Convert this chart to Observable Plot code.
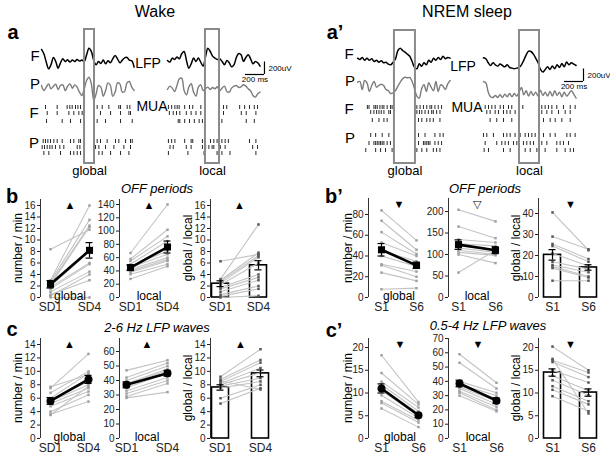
<!DOCTYPE html>
<html><head><meta charset="utf-8">
<script src="https://cdn.jsdelivr.net/npm/d3@7"></script>
<script src="https://cdn.jsdelivr.net/npm/@observablehq/plot@0.6"></script>
<style>
body{margin:0;background:#fff;}
#fig{position:relative;width:615px;height:460px;overflow:hidden;font-family:"Liberation Sans",Arial,sans-serif;color:#000;}
.abs{position:absolute;white-space:nowrap;line-height:1;}
</style></head><body><div id="fig"></div>
<script>
// ---------------- DATA ----------------
// LFP traces (µV), sampled every 25 ms, 1 s windows
const wakeGlobalF = [150,80,-53,-160,-96,21,-43,-150,-64,0,-43,-16,-53,-21,-43,-11,-37,-21,-43,64,170,117,-27,-96,-43,-75,-21,-80,-32,-64,0,53,0,-64,-21,16,21,-21,-32,-133];
const wakeGlobalP = [27,-53,0,53,-27,16,48,-37,27,37,-53,16,53,-16,37,0,-80,-133,-27,107,160,53,-213,-107,27,0,-144,-53,69,27,-144,-80,69,53,-80,-69,69,91,0,-53];
const wakeLocalF = [-27,-53,11,-11,27,0,80,117,-27,-150,-80,11,-43,11,-53,-117,27,170,117,43,11,-11,0,-43,-96,-27,-64,-128,-96,21,85,64,-43,21,64,0,-80,-43,-64,-117];
const wakeLocalP = [-11,43,11,-43,53,160,170,-27,-96,27,80,-53,-117,27,64,-27,0,27,-11,21,0,32,-32,11,43,-43,-53,11,43,53,21,32,64,43,0,-32,-107,-133,-80,-53];
const nremGlobalF = [37,16,48,5,37,5,27,-16,5,-27,-5,-37,-27,-59,-69,-27,27,160,197,160,133,101,69,-16,-107,-133,-53,-91,-37,-69,5,-27,37,5,48,16,69,27,48,37];
const nremGlobalP = [53,64,-64,80,43,-96,0,64,-27,0,21,0,-64,-85,-128,-117,-80,-11,53,107,133,123,128,64,-53,-171,-203,-53,11,-96,43,-27,-85,64,-96,11,-11,-64,27,80];
const nremLocalF = [80,64,0,-43,0,-32,-53,-21,-43,-64,-32,-75,-85,-96,-85,-75,-32,43,128,187,181,139,75,0,-107,-149,-107,-64,-107,-53,-96,-32,-75,-11,-64,11,-32,0,-21,-43];
const nremLocalP = [197,176,27,-48,-59,-27,-59,-16,-59,-5,-48,5,-48,5,-37,27,101,-16,48,-37,37,-27,27,-37,59,-27,27,-37,37,-37,48,-27,27,-48,27,-37,5,48,-5,-69];

// MUA spike times (ms) per raster row
const wakeGlobalMuaF = [[42,165,270,298,323,358,383,411,586,639,709,814,832,902,930],[60,165,288,340,393,428,621,727,832,920,937],[53,218,305,411,586,674,832,955]];
const wakeGlobalMuaP = [[18,42,67,95,130,165,218,305,340,393,411,586,621,691,779,814,885,937,955],[7,32,60,88,112,147,193,235,376,404,569,604,674,762,867,937],[25,77,200,305,340,376,411,604,639,727,832,920]];
const wakeLocalMuaF = [[10,44,78,102,123,181,232,266,351,590,624,760,812,863,914,948],[20,61,95,130,198,249,300,351,590,777,829,931],[113,130,181,232,283,334,368,573,829,914]];
const wakeLocalMuaP = [[10,44,78,181,249,266,368,453,488,522,573,607,641,863,931],[27,61,198,249,368,402,436,470,488,556,607,897,948],[10,215,385,522,573,658,931]];
const nremGlobalMuaF = [[104,121,173,191,208,236,260,278,312,347,364,625,659,694,729,763,781,815,850,885],[139,173,201,226,250,278,330,347,625,652,677,711,746,781,798,833,868],[156,226,278,312,642,677,729,763,798,868]];
const nremGlobalMuaP = [[139,191,260,330,642,711,815,868,902],[121,173,191,208,226,243,260,278,312,347,642,694,711,729,746,763,815,850,885],[87,191,243,295,364,625,677,729,798,833,868]];
const nremLocalMuaF = [[18,53,88,123,176,211,263,298,414,614,649,684,720,772,842,913,965],[35,70,123,158,211,246,281,333,614,667,720,790,860,913],[70,140,211,298,632,702,755,825,913]];
const nremLocalMuaP = [[0,35,105,211,246,281,333,386,439,474,509,544,632,702,755,878,913,965],[18,140,193,228,263,316,351,421,456,492,527,614,667,772,807,842,895],[7,53,211,281,439,492,562,649,772,860,913,948]];

// event windows (ms)
const wakeGlobalWin = [453, 558];
const wakeLocalWin = [400, 548];
const nremGlobalWin = [389, 610];
const nremLocalWin = [379, 590];

// Group data
const wakeCats = ["SD1", "SD4"];
const sleepCats = ["S1", "S6"];
const offGlobalSD1 = [8.4,3.0,2.8,2.5,2.2,2.0,1.8,1.5,1.0,0.5,0.3,0.0];
const offGlobalSD4 = [11.8,16.0,13.5,12.5,12.3,8.0,6.0,5.8,4.5,3.0,4.0,0.0];
const offGlobalMean = [2.3, 8.2], offGlobalSE = [0.65, 1.35];
const offLocalSD1 = [67,58,55,50,47,45,42,40,38,35,28];
const offLocalSD4 = [140,102,92,85,70,65,60,57,55,50,47];
const offLocalMean = [45, 76], offLocalSE = [4, 9];
const offRatioSD1 = [6.3,3.2,3.0,2.8,2.5,2.2,1.8,1.5,1.0,0.5,0.2,0.0];
const offRatioSD4 = [7.5,12.7,7.8,7.3,7.0,6.0,4.0,3.5,3.0,2.0,1.5,0.3];
const offRatioMean = [2.4, 5.6], offRatioSE = [0.5, 0.8];

const offGlobalS1 = [84,74,63,53,45,40,32,31,24,8];
const offGlobalS6 = [55,46,42,40,35,30,25,20,16,9];
const offGlobalSleepMean = [46, 31], offGlobalSleepSE = [6, 3];
const offLocalS1 = [204,165,135,125,120,115,110,105,100,58];
const offLocalS6 = [177,138,128,120,112,105,100,98,80,110];
const offLocalSleepMean = [123, 110], offLocalSleepSE = [11, 8];
const offRatioS1 = [40.5,29,25.5,24.5,21,17,15.5,14.8,14,8];
const offRatioS6 = [22.5,23,18.3,17,15,13.5,12,10,9.5,8];
const offRatioSleepMean = [20.3, 14.3], offRatioSleepSE = [2.5, 1.3];

const thetaGlobalSD1 = [7.7,7.5,6.8,6.0,5.7,5.5,5.2,4.8,4.0,3.6,3.5];
const thetaGlobalSD4 = [9.5,12.6,10.0,9.7,8.5,8.0,7.5,7.0,6.5,5.5,7.8];
const thetaGlobalMean = [5.6, 8.8], thetaGlobalSE = [0.5, 0.6];
const thetaLocalSD1 = [47,42,40,38,37,35,33,31,29,28];
const thetaLocalSD4 = [54,52,50,48,47,45,42,40,38,32];
const thetaLocalMean = [37, 45], thetaLocalSE = [2, 2];
const thetaRatioSD1 = [9.2,8.8,8.5,8.2,8.0,7.8,7.5,6.0,5.2,8.6];
const thetaRatioSD4 = [13.3,11.7,11.3,10.5,9.8,9.0,8.5,8.0,7.5,7.3];
const thetaRatioMean = [7.6, 9.7], thetaRatioSE = [0.4, 0.5];

const deltaGlobalS1 = [18.3,14.4,12.5,11.8,11,10.5,9.5,8.2,7.8,6.6];
const deltaGlobalS6 = [8,7.5,6.8,6,5.5,5,4.5,4,3.5,2.5];
const deltaGlobalMean = [11, 5.1], deltaGlobalSE = [1, 0.5];
const deltaLocalS1 = [59,53,40,38,37,36,35,33,32,30];
const deltaLocalS6 = [39,35,32,30,28,26,24,22,20,19];
const deltaLocalMean = [38.5, 26.5], deltaLocalSE = [2.3, 2];
const deltaRatioS1 = [20.2,17.2,16.8,15,13.8,12.8,11.5,10.7,9.3,17.5];
const deltaRatioS6 = [15,14.5,13.5,12.3,10.5,9.5,8.2,7.5,6.0,5.5];
const deltaRatioMean = [14.5, 10.1], deltaRatioSE = [0.8, 0.8];

// ---------------- RENDER ----------------
const FONT = '"Liberation Sans", Arial, sans-serif';
const fig = document.getElementById("fig");
function txt(s, x, y, style = {}) {
  const d = document.createElement("div");
  d.className = "abs";
  d.textContent = s;
  Object.assign(d.style, {left: x + "px", top: y + "px", transform: "translate(-50%,-50%)", fontSize: "12px"}, style);
  fig.appendChild(d);
  return d;
}
function place(node, left, top) {
  node.style.position = "absolute";
  node.style.left = left + "px";
  node.style.top = top + "px";
  fig.appendChild(node);
}

const SAMPLE_MS = 25, LOCAL_OFFSET_MS = 1326, PX_PER_MS = 0.095, UV_PER_PX = 16;

function tracePanel(cfg) {
  const W = 305, H = 182;
  const segs = [{off: 0, ...cfg.global}, {off: LOCAL_OFFSET_MS, ...cfg.local}];
  const lfpF = [], lfpP = [], spikes = [];
  segs.forEach((s, si) => {
    s.F.forEach((v, i) => lfpF.push({k: si, t: s.off + i * SAMPLE_MS, y: s.baseF * UV_PER_PX - v}));
    s.P.forEach((v, i) => lfpP.push({k: si, t: s.off + i * SAMPLE_MS, y: s.baseP * UV_PER_PX - v}));
    [[s.muaF, cfg.rowsF], [s.muaP, cfg.rowsP]].forEach(([rows, rowPx]) =>
      rows.forEach((row, r) => row.forEach(t =>
        spikes.push({t: s.off + t, y1: (rowPx[r] - 2) * UV_PER_PX, y2: (rowPx[r] + 2) * UV_PER_PX}))));
  });
  const boxes = segs.map(s => ({x1: s.off + s.win[0], x2: s.off + s.win[1], label: s.name}));
  const sbY = cfg.sbYpx * UV_PER_PX;
  return Plot.plot({
    width: W, height: H, margin: 0,
    style: {fontFamily: FONT, background: "transparent"},
    x: {domain: [-cfg.t0px / PX_PER_MS, (W - cfg.t0px) / PX_PER_MS], axis: null},
    y: {domain: [0, H * UV_PER_PX], reverse: true, axis: null},
    marks: [
      Plot.line(lfpP, {x: "t", y: "y", z: "k", stroke: "#7c7c7c", strokeWidth: 1.4, curve: "catmull-rom"}),
      Plot.line(lfpF, {x: "t", y: "y", z: "k", stroke: "#000", strokeWidth: 1.5, curve: "catmull-rom"}),
      Plot.ruleX(spikes, {x: "t", y1: "y1", y2: "y2", stroke: "#111", strokeWidth: 0.9}),
      Plot.rect(boxes, {x1: "x1", x2: "x2", y1: cfg.boxTop * UV_PER_PX, y2: cfg.boxBottom * UV_PER_PX, stroke: "#8a8a8a", strokeWidth: 2, fill: "none"}),
      Plot.text(boxes, {x: d => (d.x1 + d.x2) / 2, y: cfg.labelYpx * UV_PER_PX, text: "label", fontSize: 13, fill: "#000"}),
      Plot.ruleX([cfg.sbT], {y1: sbY - 200, y2: sbY, stroke: "#000", strokeWidth: 1.2}),
      Plot.ruleY([sbY], {x1: cfg.sbT - 200, x2: cfg.sbT, stroke: "#000", strokeWidth: 1.2}),
      Plot.text(["200uV"], {x: cfg.sbT + 4 / PX_PER_MS, y: sbY - 90, textAnchor: "start", fontSize: 8}),
      Plot.text(["200 ms"], {x: cfg.sbT - 100, y: sbY + 5 * UV_PER_PX, fontSize: 8})
    ]
  });
}

place(tracePanel({
  t0px: 41, rowsF: [107, 113, 121], rowsP: [141, 147, 153], boxTop: 29, boxBottom: 163, labelYpx: 170,
  sbT: 2347, sbYpx: 74,
  global: {name: "global", F: wakeGlobalF, P: wakeGlobalP, baseF: 58.3, baseP: 86.7, muaF: wakeGlobalMuaF, muaP: wakeGlobalMuaP, win: wakeGlobalWin},
  local: {name: "local", F: wakeLocalF, P: wakeLocalP, baseF: 58.3, baseP: 88.3, muaF: wakeLocalMuaF, muaP: wakeLocalMuaP, win: wakeLocalWin}
}), 0, 0);
place(tracePanel({
  t0px: 52, rowsF: [107, 112, 120], rowsP: [135, 143, 150], boxTop: 30, boxBottom: 163, labelYpx: 170,
  sbT: 2379, sbYpx: 81,
  global: {name: "global", F: nremGlobalF, P: nremGlobalP, baseF: 60, baseP: 85, muaF: nremGlobalMuaF, muaP: nremGlobalMuaP, win: nremGlobalWin},
  local: {name: "local", F: nremLocalF, P: nremLocalP, baseF: 62.3, baseP: 93.3, muaF: nremLocalMuaF, muaP: nremLocalMuaP, win: nremLocalWin}
}), 305, 0);

// top labels
txt("Wake", 155, 12, {fontSize: "16px"});
txt("NREM sleep", 467, 12, {fontSize: "16px"});
txt("a", 13, 32, {fontSize: "20px", fontWeight: "bold"});
txt("a\u2019", 335, 32, {fontSize: "20px", fontWeight: "bold"});
[["F", 35, 55], ["P", 35, 83], ["F", 34, 112], ["P", 34, 142],
 ["F", 349, 53], ["P", 350, 80], ["F", 349, 108], ["P", 350, 137]].forEach(([s, x, y]) => txt(s, x, y, {fontSize: "15px"}));
txt("LFP", 148, 63, {fontSize: "14px"});
txt("MUA", 152, 106, {fontSize: "14px"});
txt("LFP", 463, 66, {fontSize: "14px"});
txt("MUA", 467, 107, {fontSize: "14px"});

// section labels
txt("b", 12, 196, {fontSize: "20px", fontWeight: "bold"});
txt("b\u2019", 334, 196, {fontSize: "20px", fontWeight: "bold"});
txt("c", 12, 329, {fontSize: "20px", fontWeight: "bold"});
txt("c\u2019", 334, 330, {fontSize: "20px", fontWeight: "bold"});
txt("OFF periods", 157, 188, {fontSize: "13px", fontStyle: "italic"});
txt("OFF periods", 485, 188, {fontSize: "13px", fontStyle: "italic"});
txt("2-6 Hz LFP waves", 157, 327, {fontSize: "13px", fontStyle: "italic"});
txt("0.5-4 Hz LFP waves", 488, 325, {fontSize: "13px", fontStyle: "italic"});

function pairPanel(p) {
  const ml = 30, mr = 2, mt = 6, mb = 18, right = 14;
  const unit = p.c1 - p.c0;
  const ppu = (p.y0 - p.refPx) / p.refVal;
  const topVal = (p.y0 - p.top) / ppu;
  const xmin = -(p.c0 - p.ax) / unit, xmax = 1 + right / unit;
  const width = ml + (p.c1 + right - p.ax) + mr;
  const height = mt + (p.y0 - p.top) + mb;
  const indiv = [];
  p.pre.forEach((v, i) => { indiv.push({id: i, x: 0, y: v}); indiv.push({id: i, x: 1, y: p.post[i]}); });
  const means = p.mean.map((m, i) => ({x: i, y: m, lo: m - p.se[i], hi: m + p.se[i]}));
  const capU = 3.5 / unit, hw = 8.5 / unit;
  const caps = means.flatMap(d => [{x: d.x, y: d.lo}, {x: d.x, y: d.hi}]);
  const marks = [];
  if (p.bar) marks.push(Plot.rect(means, {x1: d => d.x - hw, x2: d => d.x + hw, y1: 0, y2: "y", fill: "white", stroke: "#000", strokeWidth: 1.6}));
  marks.push(
    Plot.line(indiv, {x: "x", y: "y", z: "id", stroke: "#c4c4c4", strokeWidth: 1.1}),
    Plot.dot(indiv, {x: "x", y: "y", r: 1.4, fill: p.bar ? "#555" : "#a0a0a0", symbol: "square"})
  );
  if (!p.bar) marks.push(Plot.line(means, {x: "x", y: "y", stroke: "#000", strokeWidth: 2.6}));
  marks.push(
    Plot.ruleX(means, {x: "x", y1: "lo", y2: "hi", stroke: "#000", strokeWidth: 1.2}),
    Plot.ruleY(caps, {y: "y", x1: d => d.x - capU, x2: d => d.x + capU, stroke: "#000", strokeWidth: 1.2})
  );
  if (!p.bar) marks.push(Plot.dot(means, {x: "x", y: "y", r: 4, fill: "#000", symbol: p.sym}));
  marks.push(
    Plot.ruleX([xmin], {y1: 0, y2: topVal, stroke: "#000", strokeWidth: 0.8}),
    Plot.axisY({ticks: p.ticks, tickSize: 3, tickPadding: 2, fontSize: 10, label: null}),
    Plot.axisX({ticks: [0, 1], tickFormat: i => p.cats[i], tickSize: 0, tickPadding: 5, fontSize: 12, label: null}),
    Plot.text([p.sig], {x: 0.5, y: topVal - 6 / ppu, text: d => d, fontSize: 11, fill: "#000"})
  );
  if (p.region) marks.push(Plot.text([p.region], {x: 0.5, y: 0, text: d => d, fontSize: 12, lineAnchor: "bottom", dy: 2, fill: "#000"}));
  const chart = Plot.plot({
    width, height, marginLeft: ml, marginRight: mr, marginTop: mt, marginBottom: mb,
    style: {fontFamily: FONT, background: "transparent", color: "#222"},
    x: {domain: [xmin, xmax], axis: null},
    y: {domain: [0, topVal], axis: null},
    marks
  });
  place(chart, p.ax - ml, p.top - mt);
  if (p.ylabel) {
    const d = txt(p.ylabel, p.ax - p.labelOff, (p.top + p.y0) / 2, {fontSize: "12px"});
    d.style.transform = "translate(-50%,-50%) rotate(-90deg)";
  }
}

const rowB = {y0: 297, top: 199};
const rowBs = {y0: 297, top: 198};
const rowC = {y0: 438, top: 338};
const range = (a, b, s) => d3.range(a, b + s / 2, s);

pairPanel({...rowB, ax: 40, c0: 50, c1: 89, refPx: 205, refVal: 16, ticks: range(0, 16, 2), cats: wakeCats,
  pre: offGlobalSD1, post: offGlobalSD4, mean: offGlobalMean, se: offGlobalSE, sym: "square", sig: "\u25B2", region: "global", ylabel: "number / min", labelOff: 22});
pairPanel({...rowB, ax: 119, c0: 130, c1: 167, refPx: 204, refVal: 140, ticks: range(0, 140, 20), cats: wakeCats,
  pre: offLocalSD1, post: offLocalSD4, mean: offLocalMean, se: offLocalSE, sym: "square", sig: "\u25B2", region: "local"});
pairPanel({...rowB, ax: 210, c0: 220, c1: 258, refPx: 205, refVal: 16, ticks: range(0, 16, 2), cats: wakeCats, bar: true,
  pre: offRatioSD1, post: offRatioSD4, mean: offRatioMean, se: offRatioSE, sig: "\u25B2", ylabel: "global / local", labelOff: 22});

pairPanel({...rowBs, ax: 368, c0: 381, c1: 416, refPx: 214, refVal: 80, ticks: range(0, 80, 20), cats: sleepCats,
  pre: offGlobalS1, post: offGlobalS6, mean: offGlobalSleepMean, se: offGlobalSleepSE, sym: "square", sig: "\u25BC", region: "global", ylabel: "number / min", labelOff: 20});
pairPanel({...rowBs, ax: 448, c0: 458, c1: 495, refPx: 211, refVal: 200, ticks: range(0, 200, 50), cats: sleepCats,
  pre: offLocalS1, post: offLocalS6, mean: offLocalSleepMean, se: offLocalSleepSE, sym: "square", sig: "\u25BD", region: "local"});
pairPanel({...rowBs, ax: 538, c0: 552, c1: 588, refPx: 213, refVal: 40, ticks: range(0, 40, 10), cats: sleepCats, bar: true,
  pre: offRatioS1, post: offRatioS6, mean: offRatioSleepMean, se: offRatioSleepSE, sig: "\u25BC", ylabel: "global / local", labelOff: 22});

pairPanel({...rowC, ax: 40, c0: 50, c1: 88, refPx: 344, refVal: 14, ticks: range(0, 14, 2), cats: wakeCats,
  pre: thetaGlobalSD1, post: thetaGlobalSD4, mean: thetaGlobalMean, se: thetaGlobalSE, sym: "circle", sig: "\u25B2", region: "global", ylabel: "number / min", labelOff: 22});
pairPanel({...rowC, ax: 119, c0: 126, c1: 167, refPx: 351, refVal: 60, ticks: range(0, 60, 10), cats: wakeCats,
  pre: thetaLocalSD1, post: thetaLocalSD4, mean: thetaLocalMean, se: thetaLocalSE, sym: "circle", sig: "\u25B2", region: "local"});
pairPanel({...rowC, ax: 210, c0: 220, c1: 260, refPx: 344, refVal: 14, ticks: range(0, 14, 2), cats: wakeCats, bar: true,
  pre: thetaRatioSD1, post: thetaRatioSD4, mean: thetaRatioMean, se: thetaRatioSE, sig: "\u25B2", ylabel: "global / local", labelOff: 22});

pairPanel({...rowC, ax: 368, c0: 381, c1: 418, refPx: 347, refVal: 20, ticks: range(0, 20, 5), cats: sleepCats,
  pre: deltaGlobalS1, post: deltaGlobalS6, mean: deltaGlobalMean, se: deltaGlobalSE, sym: "circle", sig: "\u25BC", region: "global", ylabel: "number / min", labelOff: 20});
pairPanel({...rowC, ax: 448, c0: 459, c1: 496, refPx: 338, refVal: 70, ticks: range(0, 70, 10), cats: sleepCats,
  pre: deltaLocalS1, post: deltaLocalS6, mean: deltaLocalMean, se: deltaLocalSE, sym: "circle", sig: "\u25BC", region: "local"});
pairPanel({...rowC, ax: 538, c0: 552, c1: 588, refPx: 347, refVal: 20, ticks: range(0, 20, 5), cats: sleepCats, bar: true,
  pre: deltaRatioS1, post: deltaRatioS6, mean: deltaRatioMean, se: deltaRatioSE, sig: "\u25BC", ylabel: "global / local", labelOff: 22});
</script></body></html>
